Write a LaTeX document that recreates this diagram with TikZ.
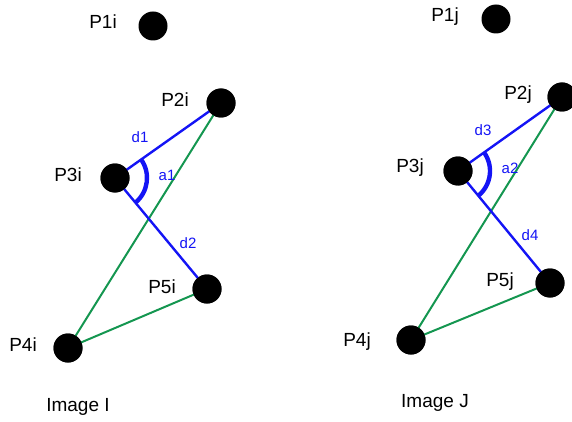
\documentclass[tikz,border=0pt]{standalone}
\usepackage{fontspec}
\setmainfont{Liberation Sans}
\usetikzlibrary{calc}
\definecolor{segblue}{RGB}{20,20,245}
\definecolor{seggreen}{RGB}{20,150,80}
\tikzset{
  pt/.style={circle,fill=black,minimum size=29pt,inner sep=0pt},
  lbl/.style={font=\fontsize{19}{21}\selectfont,inner sep=0pt},
  dlbl/.style={font=\fontsize{15}{17}\selectfont,text=segblue,inner sep=0pt},
  bseg/.style={segblue,line width=2.4pt},
  gseg/.style={seggreen,line width=2pt},
  anglearc/.style={segblue,line width=4.4pt},
}
\begin{document}
\begin{tikzpicture}[x=1pt,y=1pt]
\useasboundingbox (0,0) rectangle (572,421);
% ---- Image I ----
\node[pt] (P1i) at (153,395) {};
\node[pt] (P2i) at (221,318) {};
\node[pt] (P3i) at (115,243) {};
\node[pt] (P5i) at (207,132) {};
\node[pt] (P4i) at (68,73) {};
\draw[gseg] (P2i.center) -- (P4i.center) -- (P5i.center);
\draw[bseg] (P2i.center) -- (P3i.center) -- (P5i.center);
\draw[anglearc] ($(P3i)+(-50.4:32)$) arc[start angle=-50.4,end angle=35.3,radius=32];
\node[pt] at (P2i) {};
\node[pt] at (P3i) {};
\node[pt] at (P5i) {};
\node[pt] at (P4i) {};
\node[lbl] (t1i) at (103,399) {P1i};
\node[lbl] (t2i) at (175,321) {P2i};
\node[lbl] (t3i) at (68,246) {P3i};
\node[lbl] (t5i) at (162,134) {P5i};
\node[lbl] (t4i) at (23,76) {P4i};
\node[lbl] (capI) at (78,14) {Image I};
\node[dlbl] (d1) at (140,284) {d1};
\node[dlbl] (a1) at (167,246) {a1};
\node[dlbl] (d2) at (188,178) {d2};
% ---- Image J ----
\node[pt] (P1j) at (496,402) {};
\node[pt] (P2j) at (562,324) {};
\node[pt] (P3j) at (458,250) {};
\node[pt] (P5j) at (550,138) {};
\node[pt] (P4j) at (411,81) {};
\draw[gseg] (P2j.center) -- (P4j.center) -- (P5j.center);
\draw[bseg] (P2j.center) -- (P3j.center) -- (P5j.center);
\draw[anglearc] ($(P3j)+(-50.6:32)$) arc[start angle=-50.6,end angle=35.4,radius=32];
\node[pt] at (P2j) {};
\node[pt] at (P3j) {};
\node[pt] at (P5j) {};
\node[pt] at (P4j) {};
\node[lbl] (t1j) at (445,404) {P1j};
\node[lbl] (t2j) at (518,326) {P2j};
\node[lbl] (t3j) at (410,253) {P3j};
\node[lbl] (t5j) at (500,139) {P5j};
\node[lbl] (t4j) at (357,79) {P4j};
\node[lbl] (capJ) at (435,18) {Image J};
\node[dlbl] (d3) at (483,291) {d3};
\node[dlbl] (a2) at (510,253) {a2};
\node[dlbl] (d4) at (530,186) {d4};
\end{tikzpicture}
\end{document}
